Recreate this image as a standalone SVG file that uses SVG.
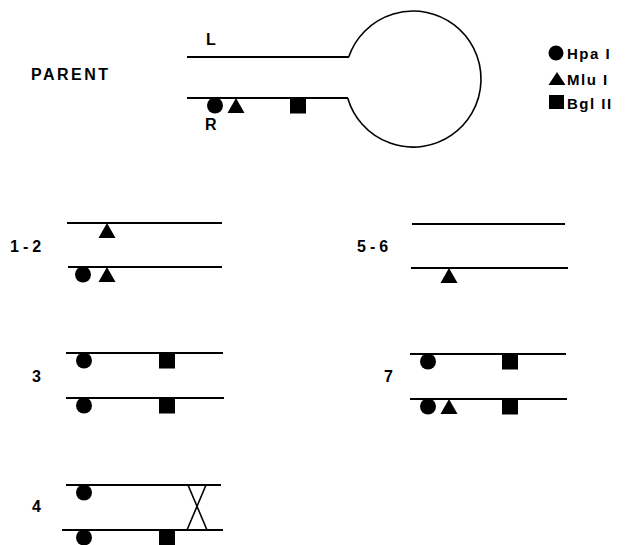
<svg xmlns="http://www.w3.org/2000/svg" xmlns:xlink="http://www.w3.org/1999/xlink" width="625" height="545" viewBox="0 0 625 545">
<style>
.ln{stroke:#000;stroke-width:2.2;fill:none}
.thin{stroke:#000;stroke-width:1.6;fill:none}
.t{font-family:"Liberation Sans",Arial,sans-serif;font-weight:bold;fill:#000}
.lab{font-size:16px;letter-spacing:1px}
.num{font-size:16px;letter-spacing:4px}
.leg{font-size:15px;letter-spacing:1.5px}
</style>
<defs>
<circle id="hpa" cx="0" cy="7.5" r="8" fill="#000"/>
<polygon id="mlu" points="0,0 8.5,15 -8.5,15" fill="#000"/>
<rect id="bgl" x="-8" y="0" width="16" height="15.5" fill="#000"/>
</defs>
<rect width="625" height="545" fill="#fff"/>

<g id="parent">
<text class="t" x="31" y="80" style="font-size:16px;letter-spacing:2.5px">PARENT</text>
<text class="t lab" x="206" y="45">L</text>
<text class="t lab" x="205" y="130">R</text>
<line class="ln" x1="187" y1="57" x2="349" y2="57"/>
<line class="ln" x1="187" y1="98" x2="348" y2="98"/>
<path class="thin" d="M348.7,57 A68,68 0 1 1 347.7,98"/>
<use xlink:href="#hpa" x="215" y="98"/>
<use xlink:href="#mlu" x="236" y="98"/>
<use xlink:href="#bgl" x="298" y="98"/>
</g>

<g id="legend">
<circle cx="556" cy="53" r="7.5" fill="#000"/>
<text class="t leg" x="567" y="59">Hpa I</text>
<polygon points="557,72 565.5,85 548.5,85" fill="#000"/>
<text class="t leg" x="567" y="85">Mlu I</text>
<rect x="549" y="95" width="15" height="14" fill="#000"/>
<text class="t leg" x="567" y="109">Bgl II</text>
</g>

<g id="c12">
<text class="t num" x="10" y="252">1-2</text>
<line class="ln" x1="67" y1="223" x2="222" y2="223"/>
<line class="ln" x1="68" y1="267" x2="222" y2="267"/>
<use xlink:href="#mlu" x="107" y="223"/>
<use xlink:href="#hpa" x="83" y="267"/>
<use xlink:href="#mlu" x="107" y="267"/>
</g>

<g id="c56">
<text class="t num" x="357" y="252">5-6</text>
<line class="ln" x1="412" y1="224" x2="565" y2="224"/>
<line class="ln" x1="411" y1="268" x2="568" y2="268"/>
<use xlink:href="#mlu" x="449" y="268"/>
</g>

<g id="c3">
<text class="t lab" x="32" y="382">3</text>
<line class="ln" x1="66" y1="353" x2="223" y2="353"/>
<line class="ln" x1="66" y1="398" x2="224" y2="398"/>
<use xlink:href="#hpa" x="84" y="353"/>
<use xlink:href="#bgl" x="167" y="353"/>
<use xlink:href="#hpa" x="84" y="398"/>
<use xlink:href="#bgl" x="167" y="398"/>
</g>

<g id="c7">
<text class="t lab" x="384" y="382">7</text>
<line class="ln" x1="410" y1="354" x2="566" y2="354"/>
<line class="ln" x1="410" y1="399" x2="567" y2="399"/>
<use xlink:href="#hpa" x="428" y="354"/>
<use xlink:href="#bgl" x="510" y="354"/>
<use xlink:href="#hpa" x="428" y="399"/>
<use xlink:href="#mlu" x="449" y="399"/>
<use xlink:href="#bgl" x="510" y="399"/>
</g>

<g id="c4">
<text class="t lab" x="32" y="512">4</text>
<line class="ln" x1="66" y1="485" x2="221" y2="485"/>
<line class="ln" x1="62" y1="530" x2="223" y2="530"/>
<use xlink:href="#hpa" x="84" y="485"/>
<use xlink:href="#hpa" x="84" y="530"/>
<use xlink:href="#bgl" x="167" y="530"/>
<g id="crossover">
<line class="thin" x1="188" y1="485" x2="207" y2="530"/>
<line class="thin" x1="206" y1="485" x2="187" y2="530"/>
</g>
</g>
</svg>
